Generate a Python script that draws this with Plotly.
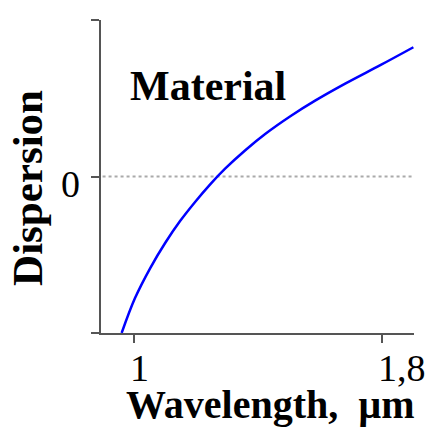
import plotly.graph_objects as go

wavelength = [0.961, 1.004, 1.053, 1.101, 1.149, 1.198, 1.246, 1.294, 1.359, 1.424, 1.504, 1.585, 1.682, 1.795, 1.900]
dispersion = [-1.0, -0.777, -0.585, -0.425, -0.285, -0.161, -0.050, 0.050, 0.168, 0.273, 0.385, 0.486, 0.595, 0.713, 0.826]

x_tickvals = [1.0, 1.8]
x_ticktext = ["1", "1,8"]
y_tickvals = [-1, 0, 1]
y_ticktext = ["", "0", ""]

FONT = "Liberation Serif, Times New Roman, serif"
AXIS = "#555555"

fig = go.Figure()
fig.add_trace(go.Scatter(x=wavelength, y=dispersion, mode="lines",
                         line=dict(color="#0000ff", width=2.5, shape="spline", smoothing=1),
                         showlegend=False, hoverinfo="skip"))

fig.add_shape(type="line", xref="paper", yref="y", x0=0.005, x1=1, y0=0, y1=0,
              line=dict(color="#aaaaaa", width=2, dash="dot"), layer="below")

annotations = [
    dict(text="<b>Material</b>", xref="paper", yref="paper",
         x=0.086, y=0.789, xanchor="left", yanchor="middle",
         showarrow=False, font=dict(size=42, family=FONT, color="black")),
    dict(text="<b>Dispersion</b>", xref="paper", yref="paper",
         x=-0.235, y=0.465, xanchor="center", yanchor="middle", textangle=-90,
         showarrow=False, font=dict(size=43, family=FONT, color="black")),
    dict(text="<b>Wavelength,\u00a0 µm</b>", xref="paper", yref="paper",
         x=0.541, y=-0.228, xanchor="center", yanchor="middle",
         showarrow=False, font=dict(size=40, family=FONT, color="black")),
]
for v, t in zip(x_tickvals, x_ticktext):
    annotations.append(dict(text=t, xref="x", yref="paper", x=v, y=-0.113,
                            xanchor="left", yanchor="middle", xshift=-6,
                            showarrow=False, font=dict(size=38, family=FONT, color="black")))
for v, t in zip(y_tickvals, y_ticktext):
    if t:
        annotations.append(dict(text=t, xref="paper", yref="y", x=-0.061, y=v,
                                xanchor="right", yanchor="middle", yshift=-7,
                                showarrow=False, font=dict(size=38, family=FONT, color="black")))

fig.update_layout(
    width=429, height=428,
    margin=dict(l=101, r=15, t=20, b=95),
    plot_bgcolor="white", paper_bgcolor="white",
    font=dict(family=FONT, color="black"),
    xaxis=dict(range=[0.8945, 1.902], showgrid=False, zeroline=False,
               showline=True, linecolor=AXIS, linewidth=2,
               ticks="outside", ticklen=8, tickwidth=2, tickcolor=AXIS,
               tickvals=x_tickvals, showticklabels=False),
    yaxis=dict(range=[-1, 1], showgrid=False, zeroline=False,
               showline=True, linecolor=AXIS, linewidth=2,
               ticks="outside", ticklen=8, tickwidth=2, tickcolor=AXIS,
               tickvals=y_tickvals, showticklabels=False),
    annotations=annotations,
)

fig.write_html("out.html")
